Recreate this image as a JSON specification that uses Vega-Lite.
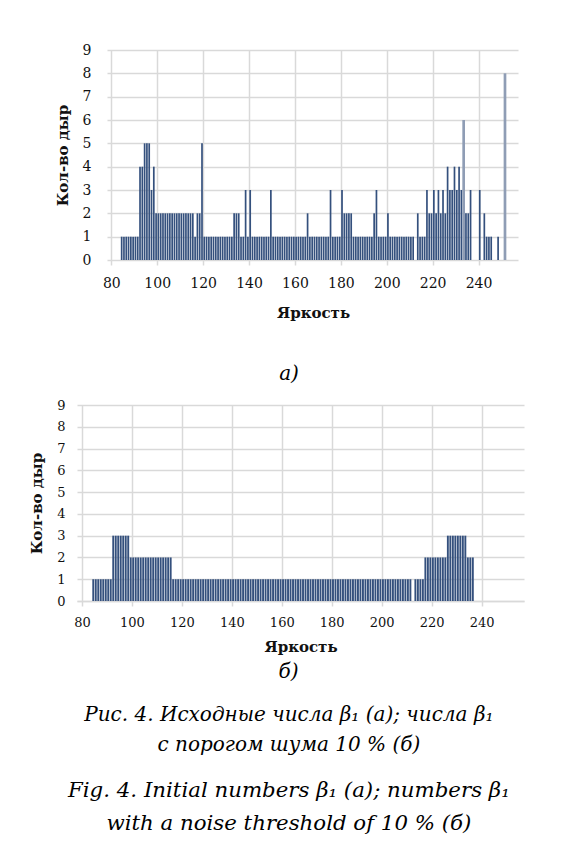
{
  "$schema": "https://vega.github.io/schema/vega-lite/v6.json",
  "background": "white",
  "padding": {"left": 29, "top": 43, "right": 10, "bottom": 15},
  "datasets": {
    "a": [
      {"b":84,"n":1},{"b":85,"n":1},{"b":86,"n":1},{"b":87,"n":1},{"b":88,"n":1},{"b":89,"n":1},{"b":90,"n":1},{"b":91,"n":1},
      {"b":92,"n":4},{"b":93,"n":4},{"b":94,"n":5},{"b":95,"n":5},{"b":96,"n":5},{"b":97,"n":3},{"b":98,"n":4},
      {"b":99,"n":2},{"b":100,"n":2},{"b":101,"n":2},{"b":102,"n":2},{"b":103,"n":2},{"b":104,"n":2},{"b":105,"n":2},{"b":106,"n":2},{"b":107,"n":2},{"b":108,"n":2},{"b":109,"n":2},{"b":110,"n":2},{"b":111,"n":2},{"b":112,"n":2},{"b":113,"n":2},{"b":114,"n":2},{"b":115,"n":2},
      {"b":116,"n":1},{"b":117,"n":2},{"b":118,"n":2},{"b":119,"n":5},
      {"b":120,"n":1},{"b":121,"n":1},{"b":122,"n":1},{"b":123,"n":1},{"b":124,"n":1},{"b":125,"n":1},{"b":126,"n":1},{"b":127,"n":1},{"b":128,"n":1},{"b":129,"n":1},{"b":130,"n":1},{"b":131,"n":1},{"b":132,"n":1},
      {"b":133,"n":2},{"b":134,"n":2},{"b":135,"n":2},{"b":136,"n":1},{"b":137,"n":1},{"b":138,"n":3},{"b":139,"n":1},{"b":140,"n":3},
      {"b":141,"n":1},{"b":142,"n":1},{"b":143,"n":1},{"b":144,"n":1},{"b":145,"n":1},{"b":146,"n":1},{"b":147,"n":1},{"b":148,"n":1},
      {"b":149,"n":3},
      {"b":150,"n":1},{"b":151,"n":1},{"b":152,"n":1},{"b":153,"n":1},{"b":154,"n":1},{"b":155,"n":1},{"b":156,"n":1},{"b":157,"n":1},{"b":158,"n":1},{"b":159,"n":1},{"b":160,"n":1},{"b":161,"n":1},{"b":162,"n":1},{"b":163,"n":1},{"b":164,"n":1},
      {"b":165,"n":2},
      {"b":166,"n":1},{"b":167,"n":1},{"b":168,"n":1},{"b":169,"n":1},{"b":170,"n":1},{"b":171,"n":1},{"b":172,"n":1},{"b":173,"n":1},{"b":174,"n":1},
      {"b":175,"n":3},
      {"b":176,"n":1},{"b":177,"n":1},{"b":178,"n":1},{"b":179,"n":1},
      {"b":180,"n":3},
      {"b":181,"n":2},{"b":182,"n":2},{"b":183,"n":2},{"b":184,"n":2},
      {"b":185,"n":1},{"b":186,"n":1},{"b":187,"n":1},{"b":188,"n":1},{"b":189,"n":1},{"b":190,"n":1},{"b":191,"n":1},{"b":192,"n":1},{"b":193,"n":1},
      {"b":194,"n":2},{"b":195,"n":3},
      {"b":196,"n":1},{"b":197,"n":1},{"b":198,"n":1},{"b":199,"n":1},
      {"b":200,"n":2},
      {"b":201,"n":1},{"b":202,"n":1},{"b":203,"n":1},{"b":204,"n":1},{"b":205,"n":1},{"b":206,"n":1},{"b":207,"n":1},{"b":208,"n":1},{"b":209,"n":1},{"b":210,"n":1},{"b":211,"n":1},
      {"b":213,"n":2},{"b":214,"n":1},{"b":215,"n":1},{"b":216,"n":1},
      {"b":217,"n":3},{"b":218,"n":2},{"b":219,"n":2},{"b":220,"n":3},{"b":221,"n":2},{"b":222,"n":3},{"b":223,"n":2},{"b":224,"n":3},{"b":225,"n":2},
      {"b":226,"n":4},{"b":227,"n":3},{"b":228,"n":3},{"b":229,"n":4},{"b":230,"n":3},{"b":231,"n":4},{"b":232,"n":3},{"b":233,"n":6},
      {"b":234,"n":2},{"b":235,"n":2},{"b":236,"n":3},
      {"b":240,"n":3},{"b":242,"n":2},{"b":243,"n":1},{"b":244,"n":1},{"b":245,"n":1},{"b":248,"n":1},{"b":251,"n":8}
    ],
    "b": [
      {"b":84,"n":1},{"b":85,"n":1},{"b":86,"n":1},{"b":87,"n":1},{"b":88,"n":1},{"b":89,"n":1},{"b":90,"n":1},{"b":91,"n":1},
      {"b":92,"n":3},{"b":93,"n":3},{"b":94,"n":3},{"b":95,"n":3},{"b":96,"n":3},{"b":97,"n":3},{"b":98,"n":3},
      {"b":99,"n":2},{"b":100,"n":2},{"b":101,"n":2},{"b":102,"n":2},{"b":103,"n":2},{"b":104,"n":2},{"b":105,"n":2},{"b":106,"n":2},{"b":107,"n":2},{"b":108,"n":2},{"b":109,"n":2},{"b":110,"n":2},{"b":111,"n":2},{"b":112,"n":2},{"b":113,"n":2},{"b":114,"n":2},{"b":115,"n":2},
      {"b":116,"n":1},{"b":117,"n":1},{"b":118,"n":1},{"b":119,"n":1},{"b":120,"n":1},{"b":121,"n":1},{"b":122,"n":1},{"b":123,"n":1},{"b":124,"n":1},{"b":125,"n":1},{"b":126,"n":1},{"b":127,"n":1},{"b":128,"n":1},{"b":129,"n":1},{"b":130,"n":1},{"b":131,"n":1},{"b":132,"n":1},{"b":133,"n":1},{"b":134,"n":1},{"b":135,"n":1},{"b":136,"n":1},{"b":137,"n":1},{"b":138,"n":1},{"b":139,"n":1},
      {"b":140,"n":1},{"b":141,"n":1},{"b":142,"n":1},{"b":143,"n":1},{"b":144,"n":1},{"b":145,"n":1},{"b":146,"n":1},{"b":147,"n":1},{"b":148,"n":1},{"b":149,"n":1},{"b":150,"n":1},{"b":151,"n":1},{"b":152,"n":1},{"b":153,"n":1},{"b":154,"n":1},{"b":155,"n":1},{"b":156,"n":1},{"b":157,"n":1},{"b":158,"n":1},{"b":159,"n":1},
      {"b":160,"n":1},{"b":161,"n":1},{"b":162,"n":1},{"b":163,"n":1},{"b":164,"n":1},{"b":165,"n":1},{"b":166,"n":1},{"b":167,"n":1},{"b":168,"n":1},{"b":169,"n":1},{"b":170,"n":1},{"b":171,"n":1},{"b":172,"n":1},{"b":173,"n":1},{"b":174,"n":1},{"b":175,"n":1},{"b":176,"n":1},{"b":177,"n":1},{"b":178,"n":1},{"b":179,"n":1},
      {"b":180,"n":1},{"b":181,"n":1},{"b":182,"n":1},{"b":183,"n":1},{"b":184,"n":1},{"b":185,"n":1},{"b":186,"n":1},{"b":187,"n":1},{"b":188,"n":1},{"b":189,"n":1},{"b":190,"n":1},{"b":191,"n":1},{"b":192,"n":1},{"b":193,"n":1},{"b":194,"n":1},{"b":195,"n":1},{"b":196,"n":1},{"b":197,"n":1},{"b":198,"n":1},{"b":199,"n":1},
      {"b":200,"n":1},{"b":201,"n":1},{"b":202,"n":1},{"b":203,"n":1},{"b":204,"n":1},{"b":205,"n":1},{"b":206,"n":1},{"b":207,"n":1},{"b":208,"n":1},{"b":209,"n":1},{"b":210,"n":1},{"b":211,"n":1},
      {"b":213,"n":1},{"b":214,"n":1},{"b":215,"n":1},{"b":216,"n":1},
      {"b":217,"n":2},{"b":218,"n":2},{"b":219,"n":2},{"b":220,"n":2},{"b":221,"n":2},{"b":222,"n":2},{"b":223,"n":2},{"b":224,"n":2},{"b":225,"n":2},
      {"b":226,"n":3},{"b":227,"n":3},{"b":228,"n":3},{"b":229,"n":3},{"b":230,"n":3},{"b":231,"n":3},{"b":232,"n":3},{"b":233,"n":3},
      {"b":234,"n":2},{"b":235,"n":2},{"b":236,"n":2}
    ]
  },
  "spacing": 15,
  "title": {
    "text": ["Рис. 4. Исходные числа β₁ (а); числа β₁", "с порогом шума 10 % (б)"],
    "subtitle": ["Fig. 4. Initial numbers β₁ (a); numbers β₁", "with a noise threshold of 10 % (б)"],
    "orient": "bottom",
    "anchor": "middle",
    "offset": 23,
    "dx": 12,
    "font": "DejaVu Serif",
    "fontStyle": "italic",
    "fontWeight": "normal",
    "fontSize": 20,
    "lineHeight": 30,
    "color": "black",
    "subtitleFont": "DejaVu Serif",
    "subtitleFontStyle": "italic",
    "subtitleFontWeight": "normal",
    "subtitleFontSize": 21.3,
    "subtitleLineHeight": 33,
    "subtitlePadding": 25,
    "subtitleColor": "black"
  },
  "vconcat": [
    {
      "data": {"name": "a"},
      "width": 441,
      "height": 210,
      "title": {"text": "а)", "orient": "bottom", "anchor": "middle", "offset": 44, "dx": -8.5, "font": "DejaVu Serif", "fontStyle": "italic", "fontWeight": "normal", "fontSize": 20, "color": "black"},
      "mark": {"type": "bar", "xOffset": 1.17},
      "encoding": {
        "x": {
          "field": "b", "type": "quantitative",
          "scale": {"domain": [67.23, 255], "nice": false, "zero": false},
          "axis": {"values": [80,100,120,140,160,180,200,220,240], "title": "Яркость", "titleX": 236, "domain": false, "labelFontSize": 14, "labelPadding": 11, "titlePadding": 15}
        },
        "y": {
          "field": "n", "type": "quantitative",
          "scale": {"domain": [0, 9], "nice": false},
          "axis": {"values": [0,1,2,3,4,5,6,7,8,9], "title": "Кол-во дыр", "offset": -30, "grid": false, "domain": false, "ticks": true, "tickSize": -411, "labelPadding": 427, "labelFontSize": 14, "titlePadding": 12}
        },
        "color": {"condition": {"test": "datum.b == 233 || datum.b == 251", "value": "#8f9db5"}, "value": "#34507d"},
        "size": {"condition": {"test": "datum.b == 233 || datum.b == 251", "value": 2.7}, "value": 1.7}
      }
    },
    {
      "data": {"name": "b"},
      "width": 447,
      "height": 196,
      "title": {"text": "б)", "orient": "bottom", "anchor": "middle", "offset": 8, "dx": -12, "font": "DejaVu Serif", "fontStyle": "italic", "fontWeight": "normal", "fontSize": 20, "color": "black"},
      "mark": {"type": "bar", "xOffset": 1.27, "color": "#34507d"},
      "encoding": {
        "x": {
          "field": "b", "type": "quantitative",
          "scale": {"domain": [80, 255], "nice": false, "zero": false},
          "axis": {"values": [80,100,120,140,160,180,200,220,240], "title": "Яркость", "labelFontSize": 13, "labelPadding": 10, "titlePadding": 10}
        },
        "y": {
          "field": "n", "type": "quantitative",
          "scale": {"domain": [0, 9], "nice": false},
          "axis": {"values": [0,1,2,3,4,5,6,7,8,9], "title": "Кол-во дыр", "domain": false, "ticks": false, "labelFontSize": 13, "labelPadding": 12, "titlePadding": 12}
        },
        "size": {"value": 1.9}
      }
    }
  ],
  "config": {
    "view": {"stroke": null},
    "axis": {
      "grid": true,
      "gridColor": "#d9d9d9",
      "gridWidth": 1.5,
      "domainColor": "#d9d9d9",
      "domainWidth": 1.5,
      "tickColor": "#d9d9d9",
      "tickWidth": 1.5,
      "tickSize": 5,
      "labelFont": "DejaVu Serif",
      "labelColor": "#111111",
      "labelFlush": false,
      "labelOverlap": false,
      "format": "d",
      "titleFont": "DejaVu Serif",
      "titleFontWeight": "bold",
      "titleFontSize": 15,
      "titleColor": "#111111"
    }
  }
}
